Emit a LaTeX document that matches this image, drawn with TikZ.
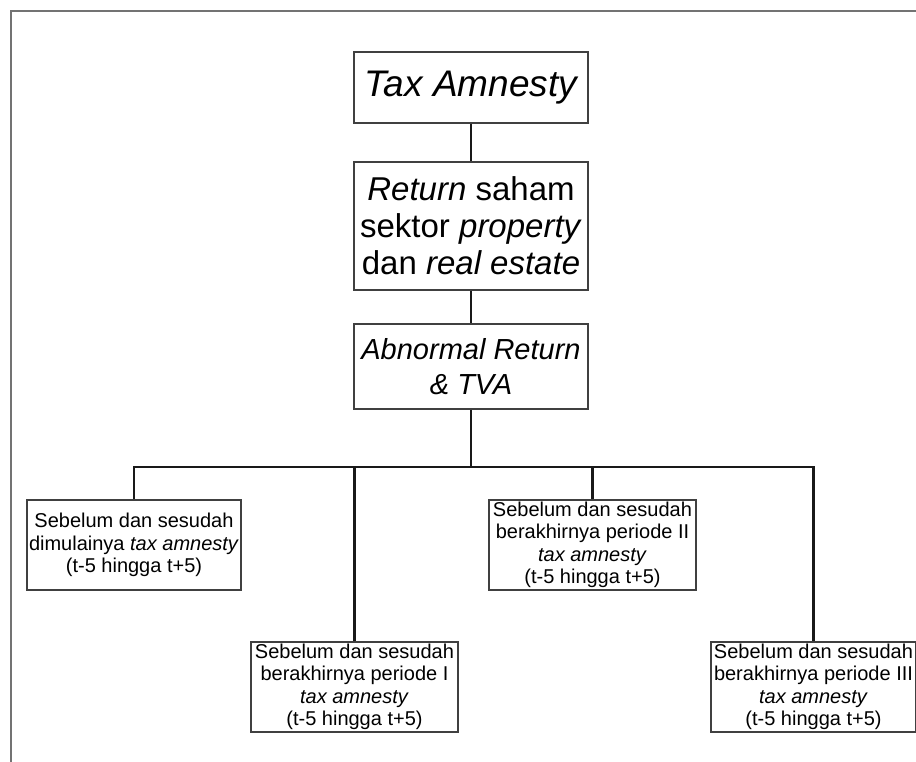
\documentclass[tikz,border=0pt]{standalone}
\usepackage{fontspec}
\setmainfont{Liberation Sans}
\usetikzlibrary{positioning}

\begin{document}
\begin{tikzpicture}[x=1pt,y=-1pt,
                block/.style={rectangle, draw=black!75, line width=1.3pt, fill=white, align=center, inner sep=0pt},
                big/.style={block, minimum width=234pt},
                small/.style={block, minimum height=90pt, font=\fontsize{20}{22.5}\selectfont},
                link/.style={draw=black!90, line width=2.4pt}
            ]
            \useasboundingbox (0,0) rectangle (916,762);
            \draw[black!55, line width=2pt] (11,762) -- (11,11) -- (916,11);
            \node[big, minimum height=71pt, font=\fontsize{37}{40}\selectfont\itshape](tax) at (471,87.5){Tax Amnesty};
            \node[big, minimum height=128pt, font=\fontsize{33}{37}\selectfont](ret) at (471,226){\textit{Return} saham\\sektor \textit{property}\\dan \textit{real estate}};
            \node[big, minimum height=85pt, font=\fontsize{29}{35}\selectfont\itshape](abn) at (471,366.5){Abnormal Return\\\& TVA};
            \node[small, minimum width=214pt](s1) at (134,545){Sebelum dan sesudah\\dimulainya \textit{tax amnesty}\\(t-5 hingga t+5)};
            \node[small, minimum width=207pt](s2) at (354.5,687){Sebelum dan sesudah\\berakhirnya periode I\\\textit{tax amnesty}\\(t-5 hingga t+5)};
            \node[small, minimum width=207pt](s3) at (592.5,545){Sebelum dan sesudah\\berakhirnya periode II\\\textit{tax amnesty}\\(t-5 hingga t+5)};
            \node[small, minimum width=205pt](s4) at (813.5,687){Sebelum dan sesudah\\berakhirnya periode III\\\textit{tax amnesty}\\(t-5 hingga t+5)};
            \coordinate (bus) at (471,467);
            \path[link] (tax) -- (ret);
            \path[link] (ret) -- (abn);
            \path[link] (abn) -- (bus);
            \path[link] (s1.north) |- (bus) -| (s4.north);
            \path[link] (s2.north) -- (s2.north |- bus);
            \path[link] (s3.north) -- (s3.north |- bus);
        \end{tikzpicture}
\end{document}
